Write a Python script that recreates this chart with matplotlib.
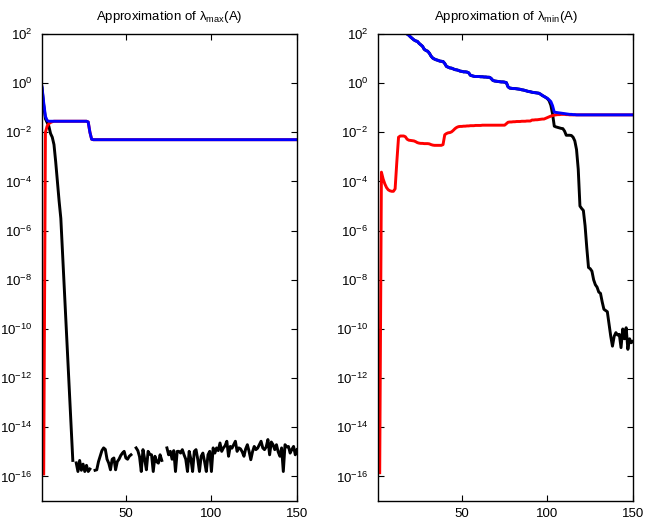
import numpy as np
import matplotlib
matplotlib.use('Agg')
from matplotlib import pyplot as plt
from matplotlib.ticker import NullLocator

plt.rcParams['font.family'] = ['Liberation Sans', 'DejaVu Sans']
plt.rcParams['mathtext.fontset'] = 'custom'
plt.rcParams['mathtext.rm'] = 'Liberation Sans'
plt.rcParams['mathtext.it'] = 'Liberation Sans:italic'
plt.rcParams['mathtext.default'] = 'regular'

nan = np.nan
it = np.arange(1, 151)

# ---- lambda_max panel (values are log10) ----
max_blue = ([-0.15, -0.8, -1.35, -1.52] + [-1.55] * 23 +
            [-1.58, -2.0, -2.28] + [-2.3] * 120)
max_red = [nan, -15.9, -2.0, -1.75, -1.65, -1.6, -1.57] + max_blue[7:]
max_black = [-0.2, -0.9, -1.45, -1.6, -1.75, -2.05, -2.2, -2.5, -3.2, -4.0,
             -4.8, -5.5, -6.9, -8.3, -9.7, -11.1, -12.5, -13.9, -15.35,
             nan, -15.45, -15.8, -15.35, -15.75, -15.5, -15.8, -15.55, -15.8, -15.7, nan,
             nan, -15.75, -15.73, -15.4, -15.18, -14.95, -14.84, -14.9, -15.3, -15.46,
             -15.73, -15.3, -15.25, -15.73, -15.4, -15.3, -15.15, -15.05, -14.98, -15.25,
             -15.3, -15.18, -15.12, nan, nan, -14.84, -14.95, -15.2, -15.8, -14.91,
             -15.3, -15.73, -14.98, -15.1, -15.12, -15.8, -15.18, -15.4, -15.46, -15.12,
             -15.35, nan, nan, -14.84, -15.12, -14.98, -15.3, -14.95, -15.8, -14.98,
             -14.98, -15.05, -14.91, -15.12, -15.3, -15.8, -14.98, -15.3, -15.8, -14.98,
             -14.91, -15.3, -15.8, -15.18, -15.05, -15.4, -15.8, -15.12, -14.98, -15.8,
             -14.84, -15.05, -14.84, -14.95, -14.64, -14.98, -14.84, -14.75, -14.57, -15.18,
             -14.78, -14.85, -14.71, -14.57, -14.98, -14.84, -14.88, -15.0, -15.18, -14.88,
             -14.71, -14.98, -15.32, -15.0, -14.78, -14.91, -14.85, -14.71, -14.57, -14.84,
             -14.91, -14.8, -14.5, -15.12, -14.6, -14.71, -14.91, -14.71, -15.0, -15.18,
             -14.84, -15.8, -14.71, -14.8, -14.78, -15.05, -14.9, -14.78, -15.12, -14.91]

# ---- lambda_min panel (values are log10) ----
min_blue = [3.2, 3.1, 3.0, 2.95, 2.9, 2.8, 2.75, 2.65, 2.6, 2.5,
            2.45, 2.4, 2.3, 2.25, 2.15, 2.1, 2.05, 2.0, 1.95, 1.88,
            1.82, 1.76, 1.72, 1.7, 1.62, 1.56, 1.5, 1.38, 1.33, 1.3,
            1.22, 1.1, 1.02, 0.98, 0.95, 0.93, 0.9, 0.89, 0.88, 0.8,
            0.68, 0.65, 0.62, 0.61, 0.58, 0.55, 0.54, 0.52, 0.49, 0.48,
            0.46, 0.46, 0.45, 0.42, 0.32, 0.3, 0.28, 0.27, 0.27, 0.27,
            0.26, 0.26, 0.25, 0.25, 0.24, 0.24, 0.2, 0.12, 0.09, 0.08,
            0.07, 0.06, 0.05, 0.05, 0.04, 0.02, -0.15, -0.2, -0.21, -0.22,
            -0.22, -0.23, -0.24, -0.25, -0.27, -0.28, -0.3, -0.32, -0.34, -0.35,
            -0.37, -0.38, -0.39, -0.4, -0.41, -0.45, -0.5, -0.54, -0.58, -0.62,
            -0.68, -0.75, -0.92, -1.18, -1.19, -1.2, -1.21, -1.22, -1.23, -1.24,
            -1.25, -1.26, -1.27, -1.27, -1.28, -1.28, -1.29] + [-1.29] * 33
min_red = [nan, -15.85, -3.62, -3.9, -4.1, -4.25, -4.34, -4.38, -4.4, -4.4,
           -4.3, -3.2, -2.2, -2.15, -2.15, -2.15, -2.18, -2.28, -2.32, -2.33,
           -2.34, -2.35, -2.38, -2.42, -2.44, -2.45, -2.45, -2.46, -2.46, -2.46,
           -2.47, -2.5, -2.52, -2.53, -2.53, -2.53, -2.53, -2.53, -2.5, -2.1,
           -2.05, -2.02, -2.01, -1.98, -1.92, -1.85, -1.8, -1.77, -1.76, -1.76,
           -1.75, -1.75, -1.74, -1.74, -1.73, -1.73, -1.73, -1.72, -1.72, -1.72,
           -1.72, -1.71, -1.71, -1.71, -1.71, -1.71, -1.71, -1.71, -1.71, -1.71,
           -1.71, -1.71, -1.71, -1.71, -1.71, -1.65, -1.59, -1.58, -1.58, -1.57,
           -1.57, -1.56, -1.56, -1.56, -1.55, -1.55, -1.55, -1.54, -1.54, -1.54,
           -1.5, -1.5, -1.49, -1.49, -1.48, -1.47, -1.46, -1.46, -1.43, -1.4,
           -1.37, -1.34, -1.32, -1.3, -1.29, -1.28, -1.28, -1.27, -1.27, -1.27,
           -1.28, -1.28, -1.29] + [-1.29] * 37
min_black = min_blue[:99] + [-0.63, -0.72, -0.9, -1.25, -1.75, -1.78, -1.8, -1.82, -1.84, -1.85,
                             -1.95, -2.12, -2.12, -2.12, -2.13, -2.2, -2.35, -2.7, -3.5, -5.0,
                             -5.1, -5.18, -5.8, -6.7, -7.5, -7.55, -7.65, -8.0, -8.2, -8.3,
                             -8.5, -8.55, -8.9, -9.2, -9.25, -9.3, -9.8, -10.3, -10.7, -10.3,
                             -10.15, -10.25, -10.22, -10.76, -10.0, -10.4, -9.95, -10.83, -10.4, -10.56,
                             -10.5]

panels = [
    ('Approximation of λ$_{max}$(A)', max_black, max_red, max_blue),
    ('Approximation of λ$_{min}$(A)', min_black, min_red, min_blue),
]

fig = plt.figure(figsize=(6.46, 5.19), dpi=100)
lefts = [42 / 646, 378 / 646]
w = 255 / 646
for left, (title, blk, red, blu) in zip(lefts, panels):
    ax = fig.add_axes([left, 1 - 501 / 519, w, 467 / 519])
    ax.semilogy(it, 10.0 ** np.array(blk), color='k', lw=2.1)
    ax.semilogy(it, 10.0 ** np.array(red), color='r', lw=2.1)
    ax.semilogy(it, 10.0 ** np.array(blu), color='b', lw=2.1)
    ax.set_xlim(1, 150)
    ax.set_ylim(1e-17, 1e2)
    ax.set_xticks([50, 100, 150])
    ax.set_yticks([10.0 ** k for k in range(-16, 3, 2)])
    ax.yaxis.set_minor_locator(NullLocator())
    ax.tick_params(direction='in', top=True, right=True, length=4, width=0.8,
                   labelsize=9.5)
    ax.tick_params(axis='y', pad=7)
    ax.tick_params(axis='x', pad=5)
    for s in ax.spines.values():
        s.set_linewidth(1)
    ax.set_title(title, fontsize=9.5, pad=10)

fig.savefig('out.png', dpi=100)
